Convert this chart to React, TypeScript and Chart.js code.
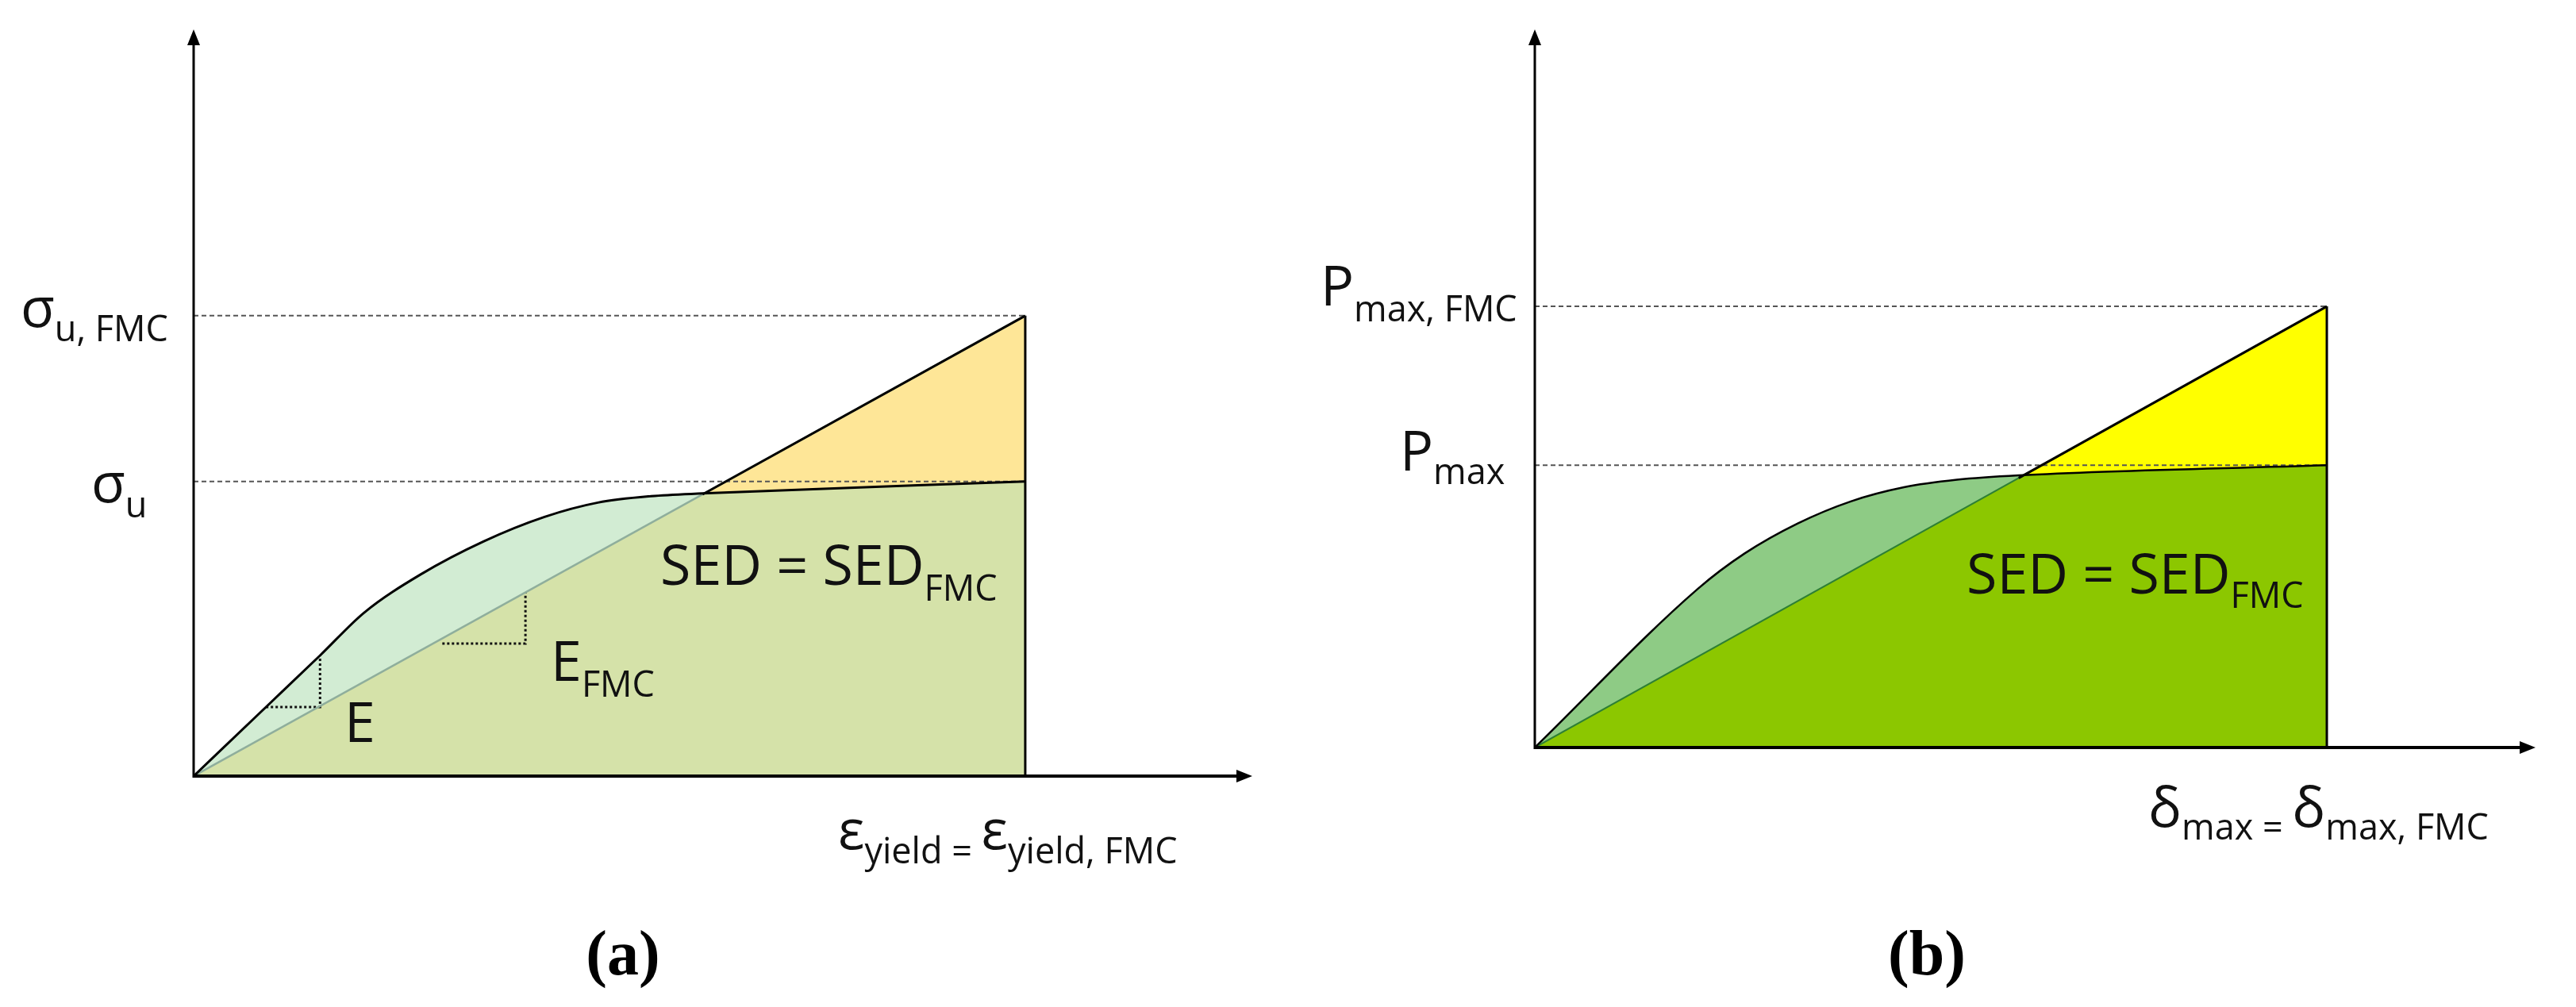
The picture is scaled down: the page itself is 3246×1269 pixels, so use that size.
import { useEffect, useRef } from "react";
import { Chart, registerables } from "chart.js";

Chart.register(...registerables);

// ---------- Panel (a): stress-strain ----------
const A_CURVE_X = [0, 0.087, 0.152, 0.205, 0.273, 0.349, 0.422, 0.486, 0.55, 0.612, 1];
const A_CURVE_Y = [0, 0.15, 0.262, 0.355, 0.438, 0.51, 0.563, 0.594, 0.608, 0.614, 0.64];
const A_FMC_X = [0, 1];
const A_FMC_Y = [0, 1];
const A_CROSS = 0.612; // where the FMC line meets the curve
const A_PEAK = 0.64; // sigma_u
const A_PEAK_FMC = 1; // sigma_u,FMC
const A_SLOPE_E_X = [0.087, 0.152, 0.152];
const A_SLOPE_E_Y = [0.15, 0.15, 0.262];
const A_SLOPE_EFMC_X = [0.299, 0.399, 0.399];
const A_SLOPE_EFMC_Y = [0.288, 0.288, 0.398];

// ---------- Panel (b): load-displacement ----------
const B_CURVE_X = [0, 0.206, 0.265, 0.332, 0.399, 0.466, 0.533, 0.611, 1];
const B_CURVE_Y = [0, 0.36, 0.44, 0.508, 0.558, 0.59, 0.607, 0.617, 0.64];
const B_FMC_X = [0, 1];
const B_FMC_Y = [0, 1];
const B_CROSS = 0.611;
const B_PEAK = 0.64; // P_max
const B_PEAK_FMC = 1; // P_max,FMC

const W = 3246;
const H = 1269;
const PANEL_W = 1623;
const FONT = '"Open Sans", "DejaVu Sans", sans-serif';
const SERIF = '"Liberation Serif", "Times New Roman", serif';
const BIG = 70;
const SUB = 45;

type Part = [string, "b" | "s"];
type Label = { x: number; y: number; dy: number; parts: Part[] };

type Panel = {
  curveX: number[];
  curveY: number[];
  fmcX: number[];
  fmcY: number[];
  cross: number;
  peak: number;
  peakFmc: number;
  slopes: { x: number[]; y: number[] }[];
  xEnd: number;
  yEnd: number;
  padding: { left: number; right: number; top: number; bottom: number };
  baseFill: string;
  upperFill: string;
  overFill: string;
  fmcLower: string;
  fmcLowerWidth: number;
  curveWidth: number;
  labels: Label[];
  caption: { text: string; x: number; y: number };
};

const PANEL_A: Panel = {
  curveX: A_CURVE_X,
  curveY: A_CURVE_Y,
  fmcX: A_FMC_X,
  fmcY: A_FMC_Y,
  cross: A_CROSS,
  peak: A_PEAK,
  peakFmc: A_PEAK_FMC,
  slopes: [
    { x: A_SLOPE_E_X, y: A_SLOPE_E_Y },
    { x: A_SLOPE_EFMC_X, y: A_SLOPE_EFMC_Y },
  ],
  xEnd: 1.273,
  yEnd: 1.622,
  padding: { left: 244, right: 45, top: 37, bottom: 291 },
  baseFill: "#D5E2A9",
  upperFill: "#D2ECD3",
  overFill: "#FEE697",
  fmcLower: "#8FAE9C",
  fmcLowerWidth: 2.5,
  curveWidth: 3,
  labels: [
    { x: 26, y: 412, dy: 18, parts: [["σ", "b"], ["u, FMC", "s"]] },
    { x: 115, y: 633, dy: 19, parts: [["σ", "b"], ["u", "s"]] },
    { x: 832, y: 737, dy: 20, parts: [["SED = SED", "b"], ["FMC", "s"]] },
    { x: 434, y: 935, dy: 0, parts: [["E", "b"]] },
    { x: 694, y: 858, dy: 20, parts: [["E", "b"], ["FMC", "s"]] },
    {
      x: 1056,
      y: 1070,
      dy: 18,
      parts: [["ε", "b"], ["yield = ", "s"], ["ε", "b"], ["yield, FMC", "s"]],
    },
  ],
  caption: { text: "(a)", x: 785, y: 1228 },
};

const PANEL_B: Panel = {
  curveX: B_CURVE_X,
  curveY: B_CURVE_Y,
  fmcX: B_FMC_X,
  fmcY: B_FMC_Y,
  cross: B_CROSS,
  peak: B_PEAK,
  peakFmc: B_PEAK_FMC,
  slopes: [],
  xEnd: 1.2635,
  yEnd: 1.628,
  padding: { left: 311, right: 51, top: 37, bottom: 327 },
  baseFill: "#8CC700",
  upperFill: "#8ECB85",
  overFill: "#FFFF00",
  fmcLower: "#2E7F35",
  fmcLowerWidth: 2,
  curveWidth: 2.5,
  labels: [
    { x: 41, y: 385, dy: 20, parts: [["P", "b"], ["max, FMC", "s"]] },
    { x: 141, y: 593, dy: 17, parts: [["P", "b"], ["max", "s"]] },
    { x: 855, y: 748, dy: 18, parts: [["SED = SED", "b"], ["FMC", "s"]] },
    {
      x: 1084,
      y: 1042,
      dy: 16,
      parts: [["δ", "b"], ["max = ", "s"], ["δ", "b"], ["max, FMC", "s"]],
    },
  ],
  caption: { text: "(b)", x: 805, y: 1228 },
};

const pts = (xs: number[], ys: number[]) => xs.map((x, i) => ({ x, y: ys[i] }));

function drawRich(ctx: CanvasRenderingContext2D, l: Label) {
  let cx = l.x;
  ctx.fillStyle = "#111";
  ctx.textBaseline = "alphabetic";
  ctx.textAlign = "left";
  for (const [t, kind] of l.parts) {
    const size = kind === "b" ? BIG : SUB;
    ctx.font = `${size}px ${FONT}`;
    ctx.fillText(t, cx, kind === "b" ? l.y : l.y + l.dy);
    cx += ctx.measureText(t).width;
  }
}

function makeChart(canvas: HTMLCanvasElement, p: Panel) {
  const lastX = p.fmcX[p.fmcX.length - 1];
  const lastY = p.fmcY[p.fmcY.length - 1];
  const datasets: any[] = [
    // 0: test curve (drawn on top), fills between it and the FMC line
    {
      data: pts(p.curveX, p.curveY),
      borderColor: "#000",
      borderWidth: p.curveWidth,
      cubicInterpolationMode: "monotone",
      fill: { target: 2, above: p.upperFill, below: p.overFill },
    },
    // 1: upper (black) part of the FMC line, past the crossing
    {
      data: [
        { x: p.cross, y: p.cross * (lastY / lastX) },
        { x: lastX, y: lastY },
      ],
      borderColor: "#000",
      borderWidth: 3,
      fill: false,
    },
    // 2: FMC line, filled to the axis
    {
      data: pts(p.fmcX, p.fmcY),
      borderColor: p.fmcLower,
      borderWidth: p.fmcLowerWidth,
      backgroundColor: p.baseFill,
      fill: "origin",
    },
    // 3: end line
    {
      data: [
        { x: lastX, y: 0 },
        { x: lastX, y: lastY },
      ],
      borderColor: "#000",
      borderWidth: 3,
      fill: false,
    },
    // 4-5: dashed guides
    {
      data: [
        { x: 0, y: p.peakFmc },
        { x: lastX, y: p.peakFmc },
      ],
      borderColor: "#555",
      borderWidth: 2,
      borderDash: [6, 4],
      fill: false,
    },
    {
      data: [
        { x: 0, y: p.peak },
        { x: lastX, y: p.peak },
      ],
      borderColor: "#555",
      borderWidth: 2,
      borderDash: [6, 4],
      fill: false,
    },
    ...p.slopes.map((s) => ({
      data: pts(s.x, s.y),
      borderColor: "#111",
      borderWidth: 3,
      borderDash: [3, 3],
      fill: false,
    })),
  ];

  const decor = {
    id: "decor",
    afterDatasetsDraw(chart: any) {
      const ctx: CanvasRenderingContext2D = chart.ctx;
      const { left, right, top, bottom } = chart.chartArea;
      const al = 20;
      const aw = 8;
      ctx.save();
      ctx.strokeStyle = "#000";
      ctx.fillStyle = "#000";
      // x axis
      ctx.lineWidth = 4;
      ctx.beginPath();
      ctx.moveTo(left - 1, bottom);
      ctx.lineTo(right - al + 2, bottom);
      ctx.stroke();
      ctx.beginPath();
      ctx.moveTo(right, bottom);
      ctx.lineTo(right - al, bottom - aw);
      ctx.lineTo(right - al, bottom + aw);
      ctx.closePath();
      ctx.fill();
      // y axis
      ctx.lineWidth = 3;
      ctx.beginPath();
      ctx.moveTo(left, bottom + 2);
      ctx.lineTo(left, top + al - 2);
      ctx.stroke();
      ctx.beginPath();
      ctx.moveTo(left, top);
      ctx.lineTo(left - aw, top + al);
      ctx.lineTo(left + aw, top + al);
      ctx.closePath();
      ctx.fill();
      // labels
      for (const l of p.labels) drawRich(ctx, l);
      ctx.font = `bold 80px ${SERIF}`;
      ctx.textAlign = "center";
      ctx.fillStyle = "#000";
      ctx.fillText(p.caption.text, p.caption.x, p.caption.y);
      ctx.restore();
    },
  };

  return new Chart(canvas, {
    type: "line",
    data: { datasets },
    options: {
      responsive: false,
      animation: false,
      events: [],
      layout: { padding: p.padding },
      elements: { point: { radius: 0 }, line: { tension: 0 } },
      scales: {
        x: { type: "linear", min: 0, max: p.xEnd, display: false },
        y: { type: "linear", min: 0, max: p.yEnd, display: false },
      },
      plugins: {
        legend: { display: false },
        tooltip: { enabled: false },
        filler: { drawTime: "beforeDatasetsDraw" },
      } as any,
    },
    plugins: [decor],
  });
}

export default function App() {
  const refA = useRef<HTMLCanvasElement>(null);
  const refB = useRef<HTMLCanvasElement>(null);
  useEffect(() => {
    document.body.style.margin = "0";
    const a = makeChart(refA.current!, PANEL_A);
    const b = makeChart(refB.current!, PANEL_B);
    return () => {
      a.destroy();
      b.destroy();
    };
  }, []);
  return (
    <div style={{ position: "relative", width: W, height: H, background: "#fff" }}>
      <canvas
        ref={refA}
        width={PANEL_W}
        height={H}
        style={{ position: "absolute", left: 0, top: 0 }}
      />
      <canvas
        ref={refB}
        width={PANEL_W}
        height={H}
        style={{ position: "absolute", left: PANEL_W, top: 0 }}
      />
    </div>
  );
}
